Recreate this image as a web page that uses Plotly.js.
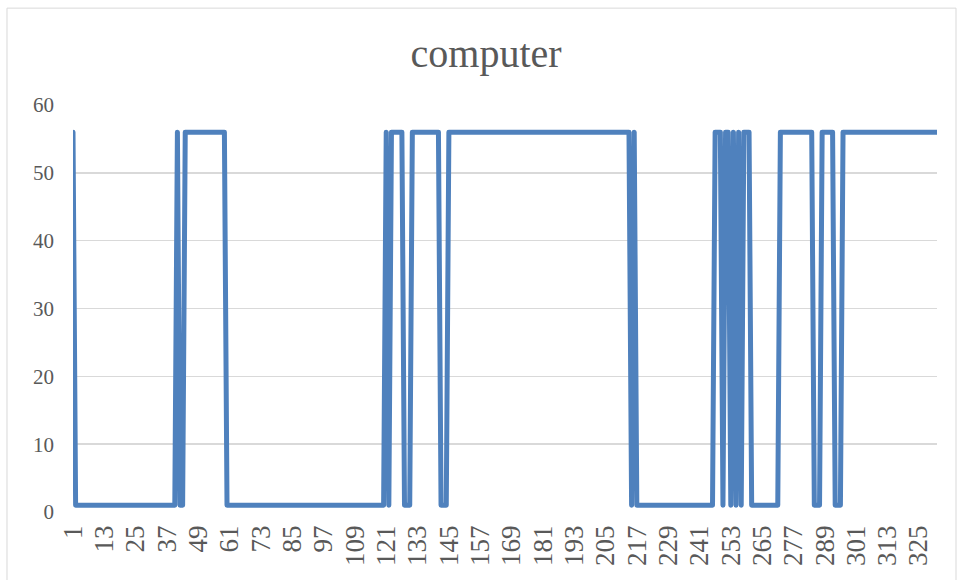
<!DOCTYPE html>
<html>
<head>
<meta charset="utf-8">
<script src="https://cdn.plot.ly/plotly-3.0.1.min.js"></script>
<style>
  html, body { margin: 0; padding: 0; background: #ffffff; }
  #chart { width: 957px; height: 580px; }
  .js-line { stroke-linejoin: round !important; stroke-linecap: round !important; }
</style>
</head>
<body>
<div id="chart"></div>
<script>
// Series values, one per category (categories 1..332, plotted at index positions)
const seriesName = "computer";
const values = [
  56,1,1,1,1,1,1,1,1,1,        // 1-10
  1,1,1,1,1,1,1,1,1,1,         // 11-20
  1,1,1,1,1,1,1,1,1,1,         // 21-30
  1,1,1,1,1,1,1,1,1,1,         // 31-40
  56,1,1,56,56,56,56,56,56,56, // 41-50
  56,56,56,56,56,56,56,56,56,1,// 51-60
  1,1,1,1,1,1,1,1,1,1,         // 61-70
  1,1,1,1,1,1,1,1,1,1,         // 71-80
  1,1,1,1,1,1,1,1,1,1,         // 81-90
  1,1,1,1,1,1,1,1,1,1,         // 91-100
  1,1,1,1,1,1,1,1,1,1,         // 101-110
  1,1,1,1,1,1,1,1,1,1,         // 111-120
  56,1,56,56,56,56,56,1,1,1,   // 121-130
  56,56,56,56,56,56,56,56,56,56, // 131-140
  56,1,1,1,56,56,56,56,56,56,  // 141-150
  56,56,56,56,56,56,56,56,56,56, // 151-160
  56,56,56,56,56,56,56,56,56,56, // 161-170
  56,56,56,56,56,56,56,56,56,56, // 171-180
  56,56,56,56,56,56,56,56,56,56, // 181-190
  56,56,56,56,56,56,56,56,56,56, // 191-200
  56,56,56,56,56,56,56,56,56,56, // 201-210
  56,56,56,56,1,56,1,1,1,1,    // 211-220
  1,1,1,1,1,1,1,1,1,1,         // 221-230
  1,1,1,1,1,1,1,1,1,1,         // 231-240
  1,1,1,1,1,1,56,56,56,1,      // 241-250
  56,56,1,56,1,56,1,56,56,56,  // 251-260
  1,1,1,1,1,1,1,1,1,1,         // 261-270
  1,56,56,56,56,56,56,56,56,56,// 271-280
  56,56,56,56,1,1,1,56,56,56,  // 281-290
  56,56,1,1,1,56,56,56,56,56,  // 291-300
  56,56,56,56,56,56,56,56,56,56, // 301-310
  56,56,56,56,56,56,56,56,56,56, // 311-320
  56,56,56,56,56,56,56,56,56,56, // 321-330
  56,56                          // 331-332
];
// Tick positions (index of category) and their labels
const tickPositions = [0,12,24,36,48,60,72,84,96,108,120,132,144,156,168,180,192,204,216,228,240,252,264,276,288,300,312,324];
const tickLabels = ["1","13","25","37","49","61","73","85","97","109","121","133","145","157","169","181","193","205","217","229","241","253","265","277","289","301","313","325"];
const yTicks = [0,10,20,30,40,50,60];

const trace = {
  y: values,
  type: "scatter",
  mode: "lines",
  name: seriesName,
  line: { color: "#4F81BD", width: 5 },
  hoverinfo: "y"
};

const fontFam = "'Liberation Serif', 'DejaVu Serif', serif";
const layout = {
  width: 957,
  height: 580,
  margin: { l: 73, r: 20, t: 105, b: 68 },
  paper_bgcolor: "#ffffff",
  plot_bgcolor: "#ffffff",
  showlegend: false,
  title: {
    text: seriesName,
    font: { family: fontFam, size: 40, color: "#595959" },
    xref: "container", x: 0.508, xanchor: "center",
    yref: "container", y: 0.908, yanchor: "middle"
  },
  xaxis: {
    type: "linear",
    range: [0, values.length - 1],
    tickmode: "array",
    tickvals: tickPositions,
    ticktext: tickLabels,
    tickangle: -90,
    ticks: "",
    showgrid: false,
    zeroline: false,
    showline: false,
    ticklabelstandoff: 7,
    tickfont: { family: fontFam, size: 27, color: "#595959" }
  },
  yaxis: {
    range: [0, 60],
    tickmode: "array",
    tickvals: yTicks,
    ticks: "",
    showgrid: true,
    gridcolor: "#d9d9d9",
    gridwidth: 1.5,
    zeroline: false,
    showline: false,
    ticklabelstandoff: 18,
    tickfont: { family: fontFam, size: 21, color: "#595959" }
  },
  shapes: [
    { type: "rect", xref: "paper", yref: "paper",
      x0: -0.0764, x1: 1.022, y0: -0.17, y1: 1.238,
      line: { color: "#d9d9d9", width: 1 }, fillcolor: "rgba(0,0,0,0)", layer: "below" }
  ]
};

Plotly.newPlot("chart", [trace], layout, { displayModeBar: false, staticPlot: true });
</script>
</body>
</html>
